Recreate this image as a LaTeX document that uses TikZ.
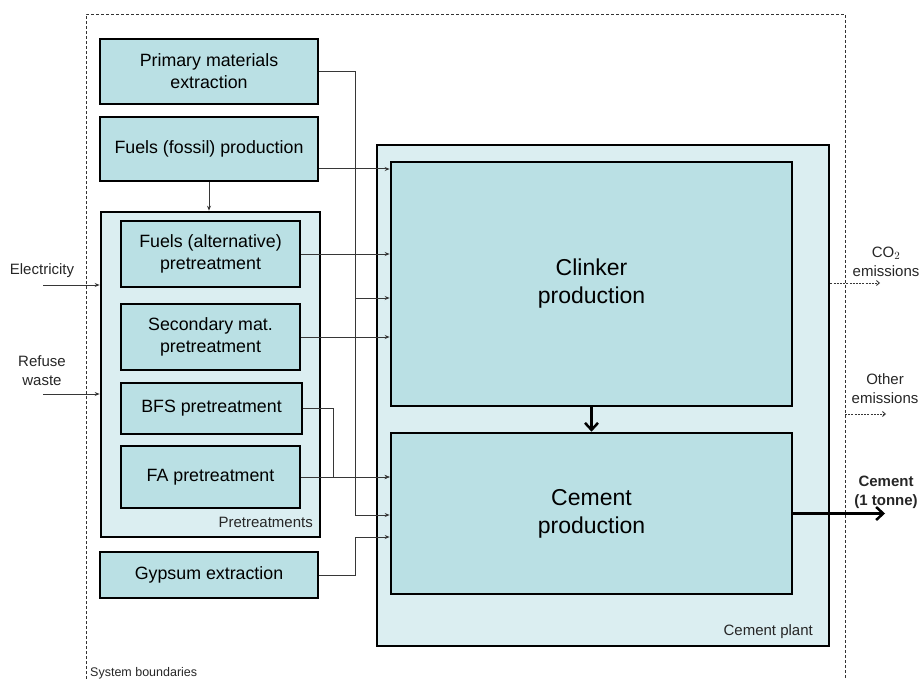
\documentclass[tikz,border=0pt]{standalone}
\usepackage{fontspec}
\setmainfont{Liberation Sans}
\usetikzlibrary{arrows.meta}
\definecolor{procFill}{RGB}{186,224,228}
\definecolor{groupFill}{RGB}{219,238,241}
\definecolor{flowGray}{RGB}{55,55,55}
\begin{document}
\begin{tikzpicture}[x=1pt, y=-1pt,
  procbox/.style={draw=black, line width=2.6pt, fill=procFill, align=center,
    inner sep=0pt, text=black, font=\fontsize{17.8}{22}\selectfont},
  bigbox/.style={procbox, font=\fontsize{23}{28}\selectfont},
  groupbox/.style={draw=black, line width=2.6pt, fill=groupFill, inner sep=0pt},
  smalltext/.style={text=black!85, align=center, inner sep=0pt, font=\fontsize{15}{19}\selectfont},
  flow/.style={draw=flowGray, line width=1pt, -{Stealth[length=5pt,width=4pt]}},
  mainflow/.style={draw=black, line width=2.5pt, -{Straight Barb[length=7pt,width=13pt]}},
  emission/.style={draw=flowGray, line width=0.9pt, dash pattern=on 2pt off 1.2pt,
    -{Straight Barb[length=3pt,width=5pt]}}]
% Page frame
\useasboundingbox (0,0) rectangle (920,679);
\providecommand{\trunkX}{355}
\providecommand{\mergeX}{333}
% System boundaries (open at the bottom)
\draw[black!80, line width=0.8pt, dash pattern=on 3pt off 2pt]
  (86,679) -- (86,14) -- (845,14) -- (845,679);
\node[smalltext, anchor=west, font=\fontsize{12.5}{15}\selectfont] (sysb) at (90,673) {System boundaries};
% Cement plant
\node[groupbox, minimum width=452pt, minimum height=501pt] (plant) at (603,395.5) {};
\node[smalltext, anchor=east] (plantlbl) at (813,632) {Cement plant};
\node[bigbox, minimum width=401pt, minimum height=244pt] (clinker) at (591.5,284) {Clinker\\production};
\node[bigbox, minimum width=401pt, minimum height=161pt] (cement) at (591.5,513.5) {Cement\\production};
% Upstream processes
\node[procbox, minimum width=218pt, minimum height=65pt] (primary) at (209,71.5) {Primary materials\\extraction};
\node[procbox, minimum width=218pt, minimum height=64pt] (fossil) at (209,149) {Fuels (fossil) production};
\node[procbox, minimum width=218pt, minimum height=46pt] (gypsum) at (209,575) {Gypsum extraction};
% Pretreatments
\node[groupbox, minimum width=219pt, minimum height=325pt] (pretreat) at (210.5,374.5) {};
\node[smalltext, anchor=east] (pretlbl) at (313,522) {Pretreatments};
\node[procbox, minimum width=179pt, minimum height=66pt] (fuelalt) at (210.5,254) {Fuels (alternative)\\pretreatment};
\node[procbox, minimum width=179pt, minimum height=66pt] (secmat) at (210.5,337) {Secondary mat.\\pretreatment};
\node[procbox, minimum width=181pt, minimum height=51pt] (bfs) at (211.5,408.5) {BFS pretreatment};
\node[procbox, minimum width=179pt, minimum height=62pt] (fa) at (210.5,477) {FA pretreatment};
% Inputs from outside
\coordinate (elecin) at (43,285);
\coordinate (refusein) at (43,394);
\node[smalltext] (eleclbl) at (42,271) {Electricity};
\node[smalltext] (refuselbl) at (42,371) {Refuse\\waste};
\draw[flow] (elecin) -- (pretreat.west |- elecin);
\draw[flow] (refusein) -- (pretreat.west |- refusein);
% Flows into clinker production
\draw[flow] (primary.east) -| (\trunkX,298) -- (clinker.west |- 0,298);
\draw[flow] (fossil.east |- 0,169) -- (clinker.west |- 0,169);
\draw[flow] (fossil.south) -- (pretreat.north -| fossil.south);
\draw[flow] (fuelalt.east) -- (clinker.west |- fuelalt.east);
\draw[flow] (secmat.east) -- (clinker.west |- secmat.east);
% Flows into cement production
\draw[flow] (primary.east) -| (\trunkX,515) -- (cement.west |- 0,515);
\draw[flow] (bfs.east) -| (\mergeX,477) -- (cement.west |- 0,477);
\draw[flow] (fa.east) -- (cement.west |- fa.east);
\draw[flow] (gypsum.east) -| (\trunkX,537) -- (cement.west |- 0,537);
\draw[mainflow] (clinker.south) -- (cement.north);
% Outputs
\coordinate (cementout) at (885,513.5);
\coordinate (co2out) at (880,283);
\coordinate (otherin) at (845,414);
\coordinate (otherout) at (886,414);
\draw[mainflow] (cement.east) -- (cementout);
\draw[emission] (plant.east |- co2out) -- (co2out);
\draw[emission] (otherin) -- (otherout);
\node[smalltext] (co2lbl) at (886,262) {CO$_2$\\emissions};
\node[smalltext] (otherlbl) at (885,389) {Other\\emissions};
\node[smalltext, font=\bfseries\fontsize{15}{19}\selectfont] (cementlbl) at (886,492) {Cement\\(1 tonne)};
\end{tikzpicture}
\end{document}
